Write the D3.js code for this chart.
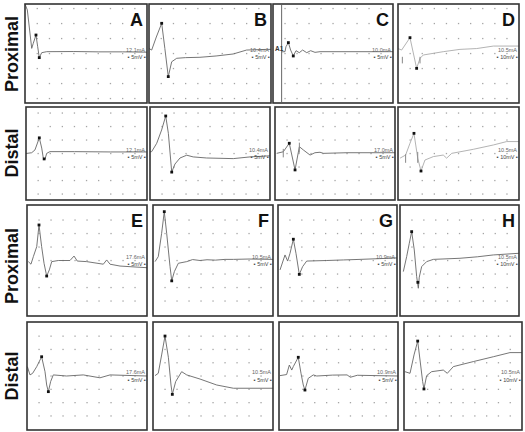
<!DOCTYPE html>
<html>
<head>
<meta charset="utf-8">
<script src="https://cdn.jsdelivr.net/npm/d3@7"></script>
<style>
  body { margin: 0; background: #fff; }
  svg { display: block; font-family: "Liberation Sans", Arial, sans-serif; }
</style>
</head>
<body>
<svg id="fig" width="525" height="432"></svg>
<script>
// trace points: [time division 0..10, amplitude division -3..3]
var traceA1 = [[0,3],[0.19,2.64],[0.55,0.31],[0.68,0.62],[0.9,1.12],[1.04,0.41],[1.17,-0.25],[1.37,0.05],[1.78,0.11],[4,0.12],[6,0.1],[8,0.1],[10,0.08]]
var traceB1 = [[0,0.3],[0.22,0.21],[0.6,1.0],[1.04,1.83],[1.3,0.3],[1.58,-1.4],[1.86,-0.5],[2.27,-0.29],[3,-0.25],[4.18,-0.23],[5.5,-0.15],[6.9,-0.03],[8,0.21],[9.65,0.25],[10,0.25]]
var traceC1 = [[0.72,0.1],[1.0,0.11],[1.08,0.41],[1.28,0.66],[1.47,0.21],[1.69,-0.15],[1.92,0.17],[2.19,0.05],[2.47,0.21],[2.81,0.05],[3.14,0.17],[3.5,0.07],[3.92,0.11],[10,0.11]]
var traceD1 = [[0,0.3],[0.3,0.21],[0.99,0.96],[1.54,-0.9],[1.82,-0.29],[2.09,-0.09],[3.74,0.11],[5.12,0.25],[6.5,0.3],[7.88,0.45],[10,0.45]]
var traceA2 = [[0,0],[0.47,0.05],[0.74,0.23],[1.1,1.01],[1.3,0.35],[1.43,-0.3],[1.57,-0.37],[1.71,0.01],[1.98,0.12],[4,0.12],[7,0.1],[10,0.1]]
var traceB2 = [[0,0.1],[0.14,0.12],[0.56,0.66],[0.97,1.52],[1.31,2.42],[1.53,1.3],[1.81,-1.2],[2.08,-0.68],[2.5,-0.29],[3.06,-0.11],[3.6,-0.22],[4.72,-0.29],[6.94,-0.33],[8.33,-0.22],[10,-0.15]]
var traceC2 = [[0.14,0.01],[0.69,0.11],[1.19,0.66],[1.67,-1.06],[2.03,0.44],[2.36,0.23],[2.92,-0.1],[3.33,0.05],[3.75,0.08],[4.03,0.01],[6,0.05],[10,0.05]]
var traceD2 = [[0.17,-0.3],[0.63,-0.1],[0.99,0.66],[1.32,1.3],[1.63,-0.3],[1.9,-1.13],[2.23,-0.42],[2.92,-0.2],[3.74,-0.1],[4.02,-0.3],[4.44,0.01],[6.22,0.27],[7.88,0.55],[8.98,0.77],[10,0.77]]
var traceE = [[0.11,-0.06],[0.33,-0.2],[0.53,0.21],[0.81,0.75],[1.0,1.92],[1.22,0.75],[1.42,-0.15],[1.64,-0.84],[1.86,-0.51],[2.06,-0.06],[2.61,0],[3.58,0],[3.92,0.24],[4.19,-0.03],[4.97,-0.06],[6.36,-0.2],[6.64,0.03],[6.92,-0.2],[7.75,-0.3],[10,-0.39]]
var traceF = [[0.17,-0.06],[0.44,0.21],[0.72,1.47],[0.94,2.64],[1.14,1.47],[1.42,-0.33],[1.56,-1.1],[1.78,-0.6],[2.11,-0.15],[2.81,-0.06],[3.3,0.05],[3.92,0],[4.5,0.04],[5.2,0.02],[6,0.06],[6.7,0.06],[8,0.08],[10,0.06]]
var traceG = [[0.17,-0.51],[0.59,0.3],[0.81,-0.03],[1.01,0.39],[1.29,1.15],[1.51,0.39],[1.79,-0.75],[2.07,-0.33],[2.41,-0.03],[4.09,0],[5.5,0.03],[6.89,0.06],[8.5,0.1],[10,0.14]]
var traceH = [[0.28,-0.6],[0.56,0.21],[0.78,0.93],[0.98,1.56],[1.2,0.57],[1.4,-0.87],[1.54,-1.5],[1.62,-0.9],[1.82,-0.33],[2.24,-0.06],[2.8,0.06],[5.04,0.12],[6.5,0.2],[7.84,0.3],[10,0.39]]
var traceE4 = [[0.03,0.52],[0.25,0.06],[0.47,0.15],[0.81,0.52],[1.22,1.07],[1.5,0.24],[1.64,-0.5],[1.78,-0.87],[1.97,-0.31],[2.19,0.06],[3.3,0],[4.69,0.06],[6.08,-0.1],[6.92,0.06],[10,0]]
var traceF4 = [[0.17,0.02],[0.44,0.15],[0.72,1.17],[1.0,2.22],[1.28,1.04],[1.5,-0.5],[1.61,-1.02],[1.89,-0.31],[2.39,0.24],[2.81,0.06],[3.92,-0.17],[5.31,-0.5],[6.7,-0.68],[9.5,-0.68],[10,-0.68]]
var traceG4 = [[0.08,0.02],[0.64,0.08],[0.87,0.61],[1.07,0.33],[1.2,0.52],[1.62,1.04],[1.85,0.15],[2.04,-0.5],[2.18,-0.78],[2.46,-0.13],[2.88,0.06],[3.17,0],[4.5,0.05],[5.72,0.06],[6.0,-0.07],[6.58,0.04],[10,0]]
var traceH4 = [[0.08,0.24],[0.51,0.15],[0.85,1.17],[1.16,1.94],[1.41,0.61],[1.58,-0.31],[1.69,-0.72],[1.92,0.02],[2.34,0.24],[3.33,0.33],[3.67,0.15],[4.18,0.52],[5.87,0.8],[7.57,1.07],[8.98,1.3],[10,1.3]]

// peak / trough markers
var marksA1 = [[0.9,1.12],[1.17,-0.25]]
var marksB1 = [[1.04,1.83],[1.58,-1.4]]
var marksC1 = [[1.28,0.66],[1.69,-0.15]]
var marksD1 = [[0.99,0.96],[1.54,-0.9]]
var marksA2 = [[1.1,1.01],[1.5,-0.35]]
var marksB2 = [[1.31,2.42],[1.81,-1.2]]
var marksC2 = [[1.19,0.66],[1.67,-1.06]]
var marksD2 = [[1.32,1.3],[1.9,-1.13]]
var marksE = [[1.0,1.92],[1.64,-0.84]]
var marksF = [[0.94,2.64],[1.56,-1.1]]
var marksG = [[1.29,1.15],[1.79,-0.75]]
var marksH = [[0.98,1.56],[1.5,-1.18]]
var marksE4 = [[1.22,1.07],[1.78,-0.87]]
var marksF4 = [[1.0,2.22],[1.61,-1.02]]
var marksG4 = [[1.62,1.04],[2.18,-0.78]]
var marksH4 = [[1.16,1.94],[1.69,-0.72]]

// cursor bars: [time, low, high]
var cursorsC2 = [[0.69,-0.25,0.3],[2.03,0.05,0.7]]
var cursorsD1 = [[0.36,-0.6,-0.2],[1.82,-0.6,-0.2]]
var cursorsD2 = [[0.63,-0.6,-0.05],[1.63,-0.6,0.1]]

var panelLetters = ["A","B","C","D","","","","","E","F","G","H","","","",""]
var currentLabels = ["12.1mA","10.4mA","10.0mA","10.5mA","12.1mA","10.4mA","17.0mA","10.5mA","17.6mA","10.5mA","10.9mA","10.5mA","17.6mA","10.5mA","10.9mA","10.5mA"]
var gainLabels = ["5mV","5mV","5mV","10mV","5mV","5mV","5mV","10mV","5mV","5mV","5mV","10mV","5mV","5mV","5mV","10mV"]
var rowLabels = ["Proximal","Distal","Proximal","Distal"]

var traces = [traceA1,traceB1,traceC1,traceD1,traceA2,traceB2,traceC2,traceD2,traceE,traceF,traceG,traceH,traceE4,traceF4,traceG4,traceH4]
var marks = [marksA1,marksB1,marksC1,marksD1,marksA2,marksB2,marksC2,marksD2,marksE,marksF,marksG,marksH,marksE4,marksF4,marksG4,marksH4]
var cursors = {3: cursorsD1, 6: cursorsC2, 7: cursorsD2}

// panel frames in page pixels
var boxes = [
  [25,4,147,103],[149,4,271,103],[273,4,393,103],[398,4,519,103],
  [26,107,147,200],[150,107,270,200],[275,107,395,200],[398,107,519,200],
  [27,205,147,316],[153,205,273,316],[278,205,397,316],[400,205,519,316],
  [27,322,147,430],[153,322,273,430],[279,322,398,430],[404,322,522,430]
]
var rowDotStep = [15, 13.5, 13.5, 13.3]
var rowCenters = [54, 153, 266, 376]

var svg = d3.select("#fig")

svg.selectAll("text.row")
  .data(rowLabels)
  .enter().append("text")
  .attr("class", "row")
  .attr("transform", (d, i) => `translate(18,${rowCenters[i]}) rotate(-90)`)
  .attr("text-anchor", "middle")
  .style("font-size", "18px")
  .style("font-weight", "bold")
  .attr("fill", "#111")
  .text(d => d)

boxes.forEach(function (b, i) {
  var row = Math.floor(i / 4)
  var faint = (i == 3 || i == 7)
  var x = d3.scaleLinear().domain([0, 10]).range([b[0], b[2]])
  var y = d3.scaleLinear().domain([-3, 3]).range([b[3], b[1]])
  var g = svg.append("g")

  // dot grid
  var cols = d3.range(1, 10)
  var step = rowDotStep[row]
  var y0 = y(0)
  var rowsY = []
  for (var k = -6; k <= 6; k++) {
    var yy = y0 + k * step
    if (yy > b[1] + 2 && yy < b[3] - 2) rowsY.push(yy)
  }
  rowsY.forEach(function (yy) {
    g.selectAll(null)
      .data(cols)
      .enter().append("rect")
      .attr("x", c => x(c) - 0.6)
      .attr("y", yy - 0.6)
      .attr("width", 1.3)
      .attr("height", 1.3)
      .attr("fill", "#a5a5a5")
  })

  if (i == 2) {
    g.append("line")
      .attr("x1", x(0.72)).attr("x2", x(0.72))
      .attr("y1", b[1] + 1).attr("y2", b[3] - 1)
      .attr("stroke", "#666").attr("stroke-width", 1)
    g.append("text")
      .attr("x", b[0] + 2).attr("y", y(0.15))
      .style("font-size", "6.5px")
      .style("font-weight", "bold")
      .attr("fill", "#333")
      .text("A1")
  }

  var line = d3.line()
    .x(d => x(d[0]))
    .y(d => y(d[1]))

  g.append("path")
    .datum(traces[i])
    .attr("d", line)
    .attr("fill", "none")
    .attr("stroke", faint ? "#aaaaaa" : "#666")
    .attr("stroke-width", 0.9)

  ;(cursors[i] || []).forEach(function (c) {
    g.append("line")
      .attr("x1", x(c[0])).attr("x2", x(c[0]))
      .attr("y1", y(c[1])).attr("y2", y(c[2]))
      .attr("stroke", "#888").attr("stroke-width", 1)
  })

  g.selectAll("rect.mk")
    .data(marks[i])
    .enter().append("rect")
    .attr("class", "mk")
    .attr("x", d => x(d[0]) - 1.4)
    .attr("y", d => y(d[1]) - 1.4)
    .attr("width", 2.8)
    .attr("height", 2.8)
    .attr("fill", "#111")

  g.append("text")
    .attr("x", b[2] - 2)
    .attr("y", y0 - 2)
    .attr("text-anchor", "end")
    .style("font-size", "5.5px")
    .attr("fill", "#666")
    .text(currentLabels[i])

  g.append("text")
    .attr("x", b[2] - 1)
    .attr("y", y0 + 5.5)
    .attr("text-anchor", "end")
    .style("font-size", "5.5px")
    .attr("fill", "#444")
    .text("\u25aa " + gainLabels[i] + " \u25aa")

  g.append("rect")
    .attr("x", b[0])
    .attr("y", b[1])
    .attr("width", b[2] - b[0])
    .attr("height", b[3] - b[1])
    .attr("fill", "none")
    .attr("stroke", "#333")
    .attr("stroke-width", 1.6)

  if (panelLetters[i]) {
    g.append("text")
      .attr("x", b[2] - 4)
      .attr("y", b[1] + 22)
      .attr("text-anchor", "end")
      .style("font-size", "18px")
      .style("font-weight", "bold")
      .attr("fill", "#111")
      .text(panelLetters[i])
  }
})
</script>
</body>
</html>
